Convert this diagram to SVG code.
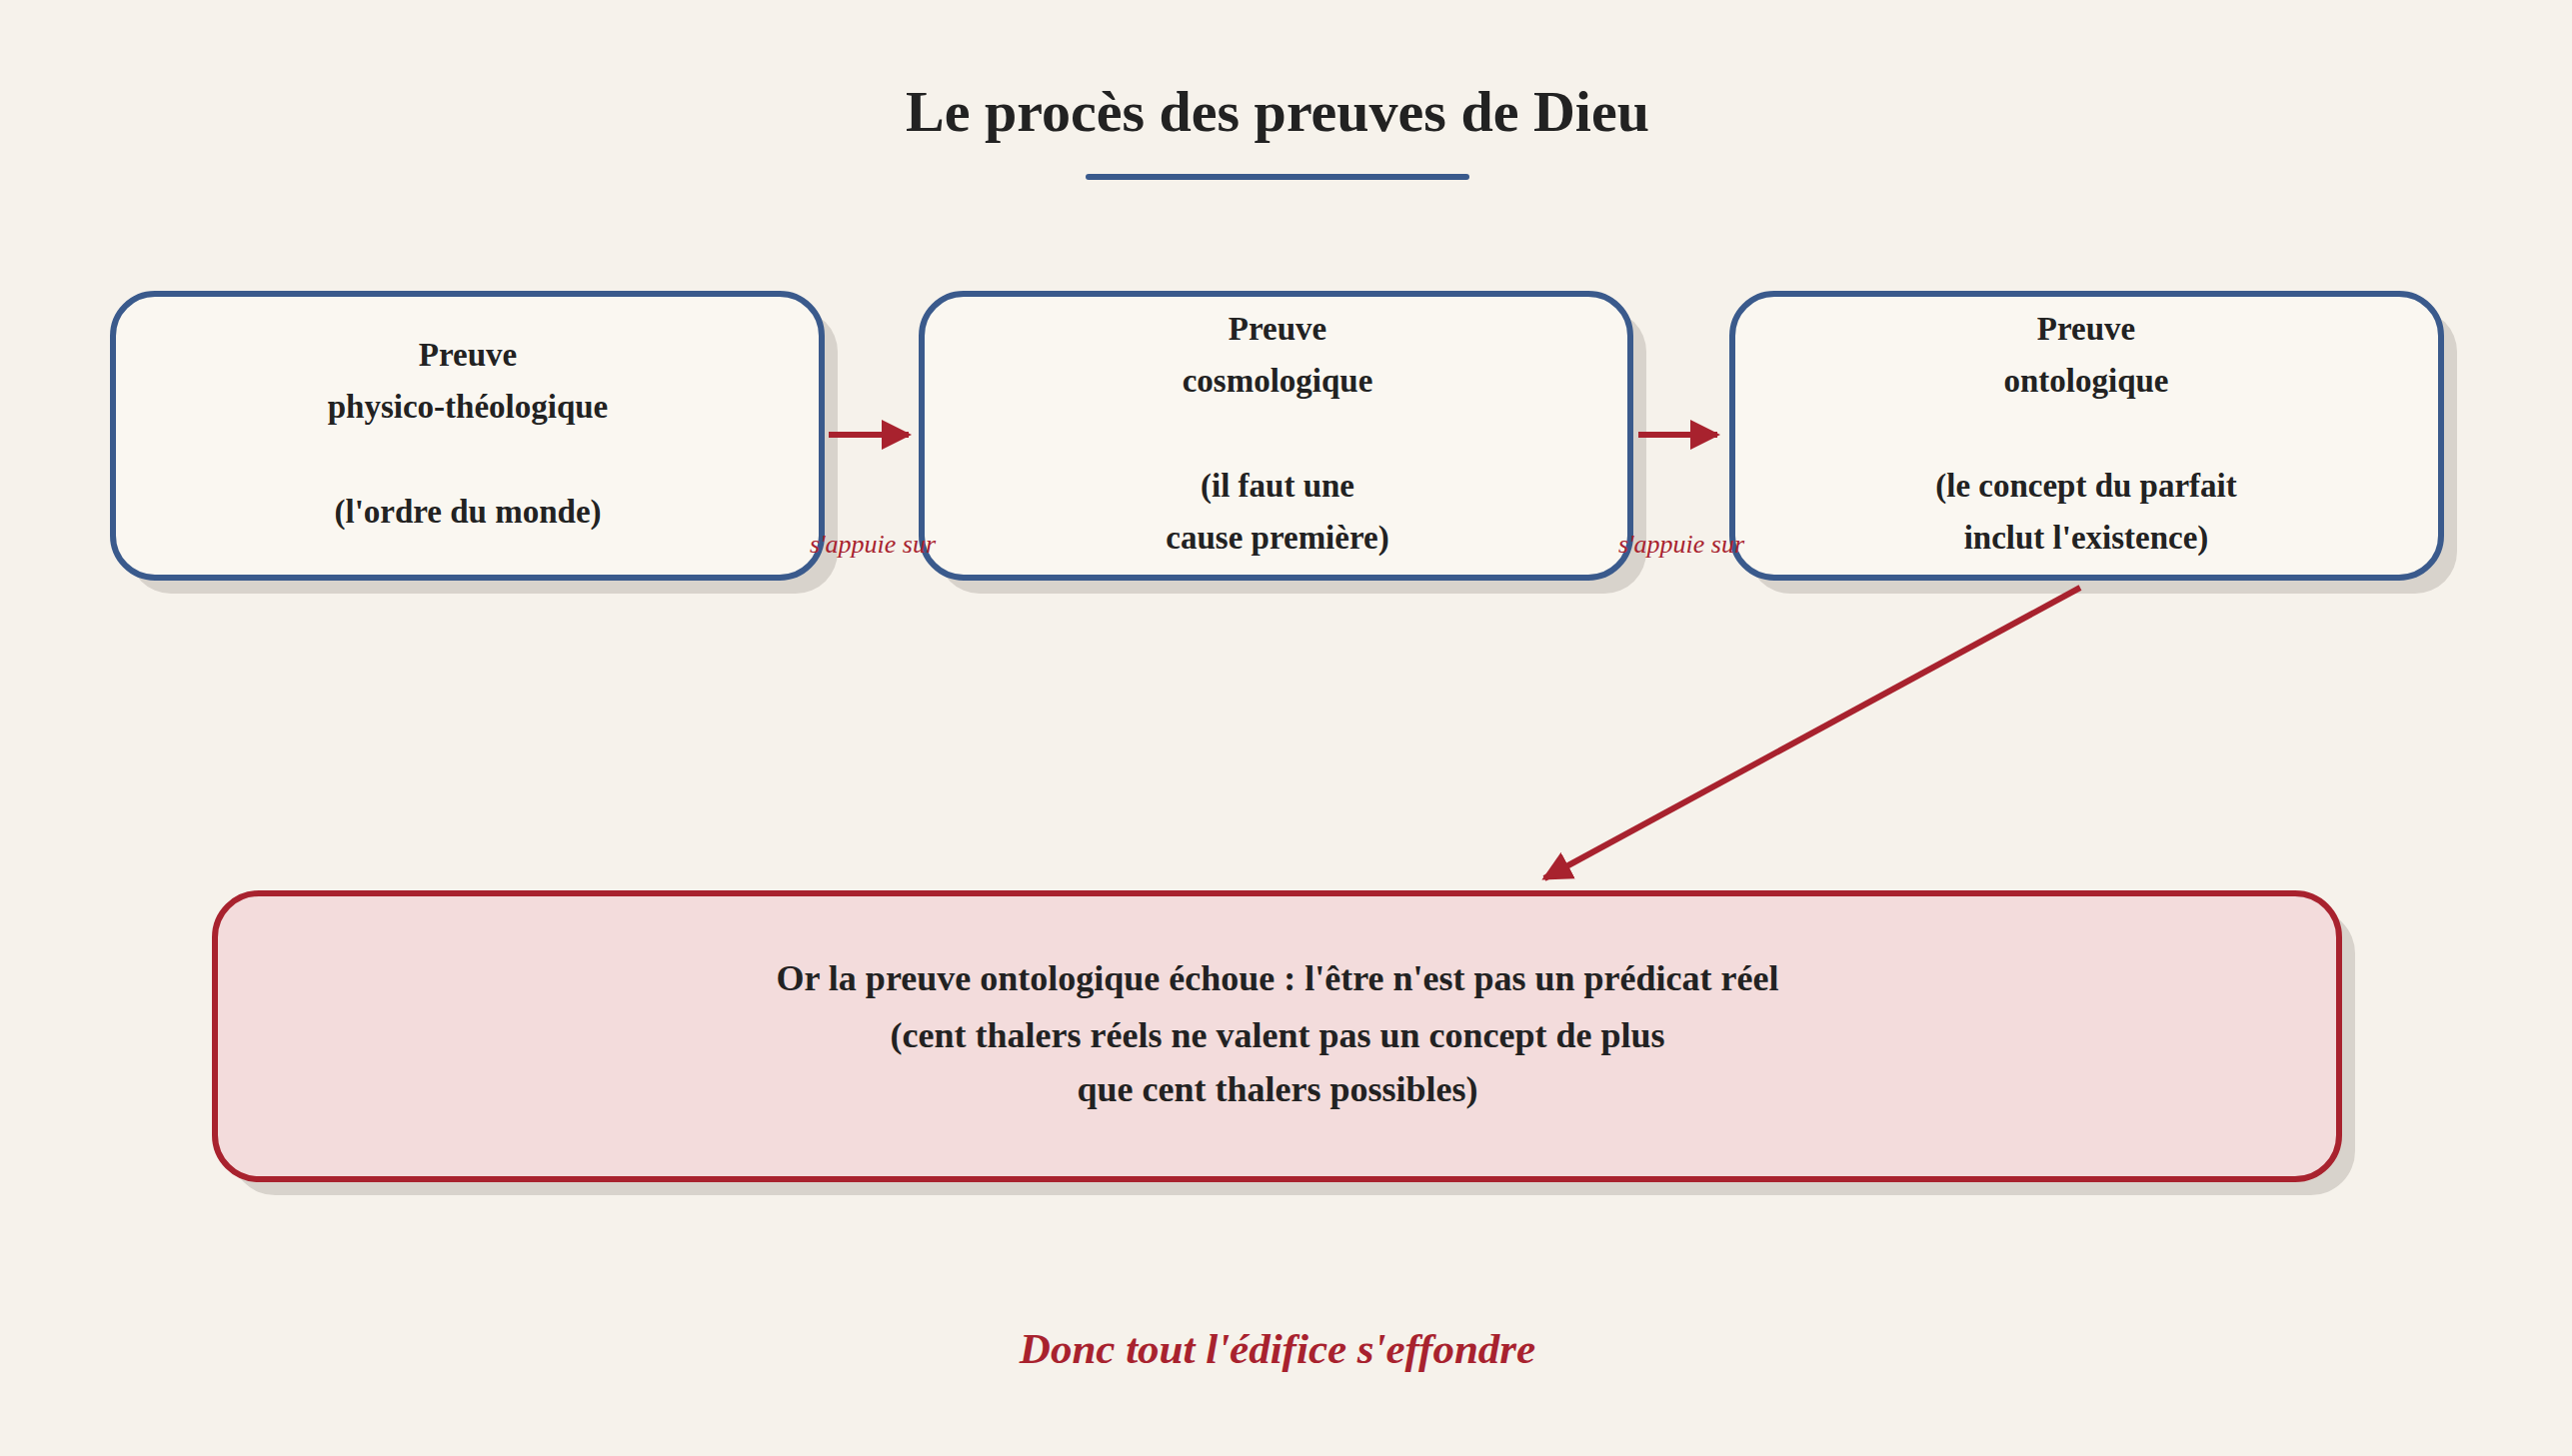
<svg xmlns="http://www.w3.org/2000/svg" width="2573" height="1457" viewBox="0 0 2573 1457">
<defs>
<marker id="ah" viewBox="0 0 10 10" refX="9" refY="5" markerWidth="5" markerHeight="5" orient="auto" markerUnits="strokeWidth"><path d="M0,0 L10,5 L0,10 z" fill="#a8222e"/></marker>
</defs>
<style>
.bx{fill:#faf7f1;stroke:#3a5a8c;stroke-width:6}
.sh{fill:#d8d3cc}
.t{font-family:"Liberation Serif",serif;font-weight:bold;font-size:33px;fill:#222;text-anchor:middle}
.bt{font-size:36px}
.lbl{font-family:"Liberation Serif",serif;font-style:italic;font-size:26px;fill:#a8222e;text-anchor:middle}
.c{stroke:#a8222e;stroke-width:6;fill:none;marker-end:url(#ah)}
</style>
<rect width="2573" height="1457" fill="#f6f2eb"/>
<text x="1278" y="131" font-family="Liberation Serif,serif" font-weight="bold" font-size="58" fill="#222" text-anchor="middle">Le procès des preuves de Dieu</text>
<rect x="1086" y="174" width="384" height="6" rx="3" fill="#3a5a8c"/>
<g id="n1"><rect class="sh" x="129" y="310" width="709" height="284" rx="42"/><rect class="bx" x="113" y="294" width="709" height="284" rx="42"/>
<text class="t" x="468" y="366">Preuve</text><text class="t" x="468" y="418">physico-théologique</text><text class="t" x="468" y="523">(l'ordre du monde)</text></g>
<g id="n2"><rect class="sh" x="938" y="310" width="709" height="284" rx="42"/><rect class="bx" x="922" y="294" width="709" height="284" rx="42"/>
<text class="t" x="1278" y="340">Preuve</text><text class="t" x="1278" y="392">cosmologique</text><text class="t" x="1278" y="497">(il faut une</text><text class="t" x="1278" y="549">cause première)</text></g>
<g id="n3"><rect class="sh" x="1749" y="310" width="709" height="284" rx="42"/><rect class="bx" x="1733" y="294" width="709" height="284" rx="42"/>
<text class="t" x="2087" y="340">Preuve</text><text class="t" x="2087" y="392">ontologique</text><text class="t" x="2087" y="497">(le concept du parfait</text><text class="t" x="2087" y="549">inclut l'existence)</text></g>
<g id="n4"><rect class="sh" x="231" y="910" width="2125" height="286" rx="44" /><rect x="215" y="894" width="2125" height="286" rx="44" fill="#f3dcdc" stroke="#a8222e" stroke-width="6"/>
<text class="t bt" x="1278" y="991">Or la preuve ontologique échoue : l'être n'est pas un prédicat réel</text><text class="t bt" x="1278" y="1048">(cent thalers réels ne valent pas un concept de plus</text><text class="t bt" x="1278" y="1102">que cent thalers possibles)</text></g>
<g id="connectors">
<line class="c" x1="829" y1="435" x2="909" y2="435"/>
<line class="c" x1="1639" y1="435" x2="1718" y2="435"/>
<line class="c" x1="2081" y1="588" x2="1545" y2="879"/>
<text class="lbl" x="873" y="553">s'appuie sur</text>
<text class="lbl" x="1682" y="553">s'appuie sur</text>
</g>
<text x="1278" y="1364" font-family="Liberation Serif,serif" font-weight="bold" font-style="italic" font-size="43" fill="#a8222e" text-anchor="middle">Donc tout l'édifice s'effondre</text>
</svg>
